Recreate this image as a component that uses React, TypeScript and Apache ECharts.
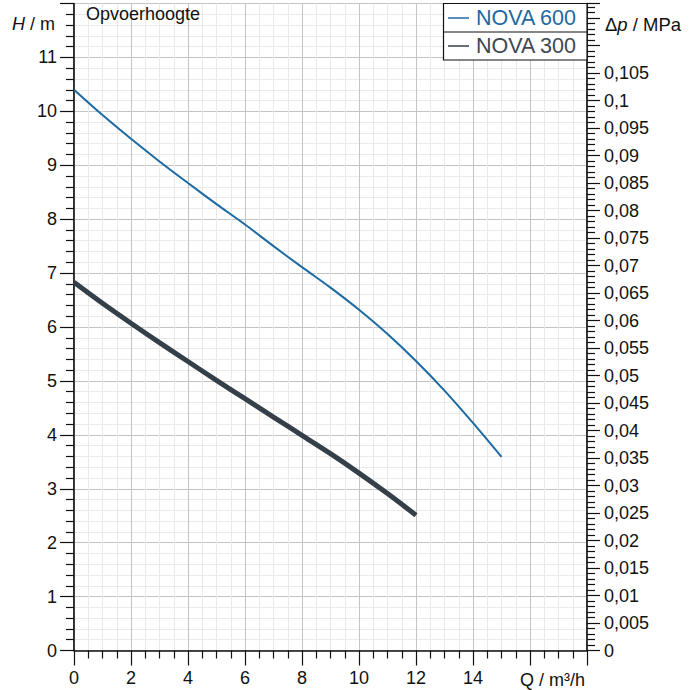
import React, { useEffect, useRef } from "react";
import * as echarts from "echarts";

const qNova600 = [0, 1, 2, 3, 4, 5, 6, 7, 8, 9, 10, 11, 12, 13, 14, 15];
const hNova600 = [10.4, 9.93, 9.49, 9.07, 8.67, 8.28, 7.9, 7.5, 7.11, 6.73, 6.32, 5.87, 5.37, 4.82, 4.22, 3.59];
const qNova300 = [0, 1, 2, 3, 4, 5, 6, 7, 8, 9, 10, 11, 12];
const hNova300 = [6.83, 6.44, 6.07, 5.71, 5.36, 5.01, 4.67, 4.33, 3.99, 3.65, 3.29, 2.91, 2.51];
const seriesNames = ["NOVA 600", "NOVA 300"];
const seriesColors = ["#1c6aa3", "#353f49"];
const legendTextColors = ["#1c6aa3", "#3d4852"];

const H_MAX = 12;
const M_PER_MPA = 101.97;

const FONT = "'Liberation Sans', Arial, sans-serif";

function fmtComma(v: number): string {
  const r = Math.round(v * 1000) / 1000;
  return String(r).replace(".", ",");
}

export default function App() {
  const ref = useRef<HTMLDivElement>(null);
  useEffect(() => {
    if (!ref.current) return;
    const chart = echarts.init(ref.current, null, { renderer: "svg" });
    const labelStyle = { fontFamily: FONT, fontSize: 18, color: "#111" };
    const option: any = {
      animation: false,
      backgroundColor: "#fff",
      grid: {
        left: 74,
        right: 107,
        top: 3.5,
        bottom: 39.5,
        show: true,
        borderColor: "#111",
        borderWidth: 1,
        backgroundColor: "transparent",
      },
      xAxis: {
        type: "value",
        min: 0,
        max: 18,
        interval: 2,
        axisLine: { show: true, lineStyle: { color: "#111", width: 1.5 } },
        axisTick: { show: true, length: 15, lineStyle: { color: "#111", width: 1.2 } },
        minorTick: { show: true, splitNumber: 4, length: 8, lineStyle: { color: "#111", width: 1.2 } },
        splitLine: { show: true, lineStyle: { color: "#c4c4c4", width: 1 } },
        minorSplitLine: { show: true, lineStyle: { color: "#ebeae6", width: 1 } },
        axisLabel: {
          ...labelStyle,
          margin: 18,
          formatter: (v: number) => (v >= 16 ? "" : String(v)),
        },
      },
      yAxis: [
        {
          type: "value",
          min: 0,
          max: H_MAX,
          interval: 1,
          position: "left",
          axisLine: { show: true, lineStyle: { color: "#111", width: 1.5 } },
          axisTick: { show: true, length: 14, lineStyle: { color: "#111", width: 1.2 } },
          minorTick: { show: true, splitNumber: 5, length: 8, lineStyle: { color: "#111", width: 1.2 } },
          splitLine: { show: true, lineStyle: { color: "#c4c4c4", width: 1 } },
          minorSplitLine: { show: true, lineStyle: { color: "#ebeae6", width: 1 } },
          axisLabel: {
            ...labelStyle,
            margin: 17,
            formatter: (v: number) => (v >= 12 ? "" : String(v)),
          },
        },
        {
          type: "value",
          min: 0,
          max: H_MAX / M_PER_MPA,
          interval: 0.005,
          position: "right",
          axisLine: { show: true, lineStyle: { color: "#111", width: 1.5 } },
          axisTick: { show: true, length: 13, lineStyle: { color: "#111", width: 1.2 } },
          minorTick: { show: true, splitNumber: 5, length: 8, lineStyle: { color: "#111", width: 1.2 } },
          splitLine: { show: false },
          minorSplitLine: { show: false },
          axisLabel: {
            ...labelStyle,
            margin: 17,
            formatter: (v: number) => (v > 0.1055 ? "" : fmtComma(v)),
          },
        },
      ],
      series: [
        {
          name: seriesNames[0],
          type: "line",
          yAxisIndex: 0,
          showSymbol: false,
          smooth: 0.3,
          lineStyle: { color: seriesColors[0], width: 2 },
          data: qNova600.map((q, i) => [q, hNova600[i]]),
          z: 3,
        },
        {
          name: seriesNames[1],
          type: "line",
          yAxisIndex: 0,
          showSymbol: false,
          smooth: 0.3,
          lineStyle: { color: seriesColors[1], width: 5 },
          data: qNova300.map((q, i) => [q, hNova300[i]]),
          z: 2,
        },
      ],
      graphic: [
        {
          type: "text",
          left: 86,
          top: 5,
          style: { text: "Opvoerhoogte", fontFamily: FONT, fontSize: 18, fill: "#111" },
          z: 10,
        },
        {
          type: "text",
          x: 55,
          y: 24,
          style: {
            text: "{i|H} / m",
            fontFamily: FONT,
            fontSize: 18,
            fill: "#111",
            align: "right",
            verticalAlign: "middle",
            rich: { i: { fontStyle: "italic", fontFamily: FONT, fontSize: 18, fill: "#111" } },
          },
          z: 10,
        },
        {
          type: "text",
          x: 605,
          y: 24,
          style: {
            text: "Δ{i|p} / MPa",
            fontFamily: FONT,
            fontSize: 18.5,
            fill: "#111",
            align: "left",
            verticalAlign: "middle",
            rich: { i: { fontStyle: "italic", fontFamily: FONT, fontSize: 18.5, fill: "#111" } },
          },
          z: 10,
        },
        {
          type: "text",
          x: 585,
          y: 680,
          style: {
            text: "Q / m³/h",
            fontFamily: FONT,
            fontSize: 18,
            fill: "#111",
            align: "right",
            verticalAlign: "middle",
          },
          z: 10,
        },
        {
          type: "rect",
          shape: { x: 443.5, y: 3.5, width: 143.5, height: 56.5 },
          style: { fill: "#fff", stroke: "#111", lineWidth: 1.2 },
          z: 20,
        },
        {
          type: "line",
          shape: { x1: 443.5, y1: 32, x2: 587, y2: 32 },
          style: { stroke: "#111", lineWidth: 1.2 },
          z: 21,
        },
        {
          type: "line",
          shape: { x1: 448, y1: 18, x2: 469, y2: 18 },
          style: { stroke: seriesColors[0], lineWidth: 1.5 },
          z: 21,
        },
        {
          type: "line",
          shape: { x1: 448, y1: 46, x2: 469, y2: 46 },
          style: { stroke: seriesColors[1], lineWidth: 1.5 },
          z: 21,
        },
        {
          type: "text",
          x: 476,
          y: 18,
          style: { text: seriesNames[0], fontFamily: FONT, fontSize: 21.5, fill: legendTextColors[0], verticalAlign: "middle" },
          z: 21,
        },
        {
          type: "text",
          x: 476,
          y: 46,
          style: { text: seriesNames[1], fontFamily: FONT, fontSize: 21.5, fill: legendTextColors[1], verticalAlign: "middle" },
          z: 21,
        },
      ],
    };
    chart.setOption(option);
    return () => chart.dispose();
  }, []);
  return (
    <div
      ref={ref}
      style={{ position: "absolute", left: 0, top: 0, width: 694, height: 690 }}
    />
  );
}
